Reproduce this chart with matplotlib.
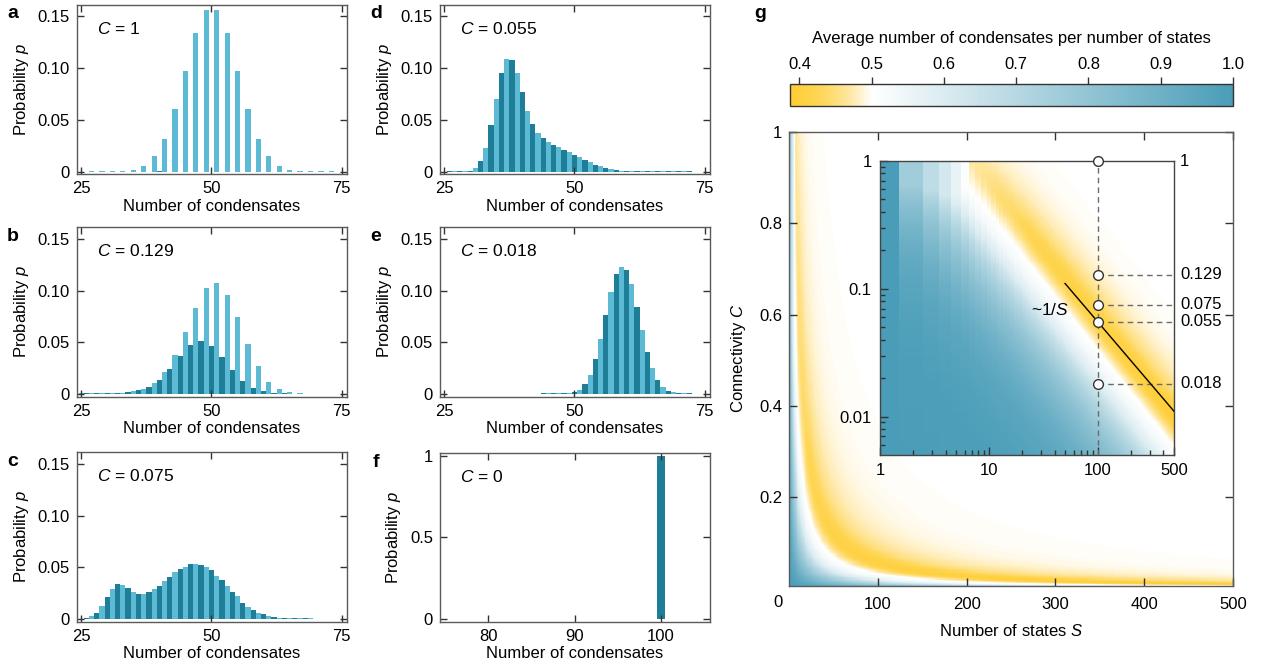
import numpy as np
import matplotlib
matplotlib.use("Agg")
import matplotlib.pyplot as plt
from matplotlib.colors import LinearSegmentedColormap, Normalize
from matplotlib.cm import ScalarMappable
from matplotlib.ticker import FixedLocator, NullFormatter

plt.rcParams["font.family"] = ["Liberation Sans", "DejaVu Sans"]
plt.rcParams["mathtext.fontset"] = "custom"
plt.rcParams["mathtext.rm"] = "Liberation Sans"
plt.rcParams["mathtext.it"] = "Liberation Sans:italic"
plt.rcParams["font.size"] = 12

# ---------------- histogram data (number of condensates, probability) ----------------
n_a_start = 27
p_a = [0.0003, 0, 0.0003, 0, 0.0003, 0, 0.0006, 0, 0.0019, 0, 0.0058, 0, 0.0148, 0.0004,
       0.032, 0, 0.0605, 0, 0.0975, 0, 0.1336, 0, 0.156, 0, 0.156, 0, 0.1336, 0, 0.0975, 0,
       0.0605, 0, 0.032, 0, 0.0148, 0, 0.0058, 0, 0.0019, 0, 0.0006, 0, 0.0003, 0, 0.0003,
       0, 0.0003]

n_b_start = 25
p_b = [0.0008, 0.0008, 0.0008, 0.0008, 0.0009, 0.0009, 0.001, 0.001, 0.0012, 0.002,
       0.003, 0.004, 0.005, 0.007, 0.011, 0.014, 0.021, 0.024, 0.038, 0.037,
       0.060, 0.047, 0.083, 0.051, 0.102, 0.046, 0.107, 0.036, 0.096, 0.023,
       0.074, 0.013, 0.048, 0.006, 0.027, 0.003, 0.012, 0.001, 0.005, 0.0006,
       0.002, 0.0004, 0.0008, 0.0003, 0.0005, 0.0003, 0.0004, 0.0003]

n_c_start = 25
p_c = [0.0005, 0.001, 0.003, 0.006, 0.013, 0.021, 0.029, 0.034, 0.033, 0.030,
       0.026, 0.024, 0.024, 0.026, 0.029, 0.032, 0.037, 0.041, 0.045, 0.048,
       0.050, 0.053, 0.053, 0.052, 0.050, 0.047, 0.042, 0.038, 0.032, 0.026,
       0.022, 0.016, 0.012, 0.009, 0.006, 0.005, 0.003, 0.002, 0.0015, 0.001,
       0.0009, 0.0008, 0.0007, 0.0006, 0.0006, 0.0005, 0.0005, 0.0004, 0.0004, 0.0004]

n_d_start = 26
p_d = [0.0003, 0.0003, 0.0004, 0.0006, 0.001, 0.0036, 0.010, 0.023, 0.045, 0.070,
       0.095, 0.109, 0.108, 0.095, 0.0765, 0.059, 0.046, 0.0375, 0.033, 0.029,
       0.026, 0.0235, 0.021, 0.0187, 0.0165, 0.0139, 0.0113, 0.009, 0.0068, 0.0052,
       0.0036, 0.0026, 0.0016, 0.001, 0.0008, 0.0006, 0.0005, 0.0004, 0.0003, 0.0003,
       0.0003, 0.0003, 0.0003, 0.0003, 0.0003, 0.0003, 0.0003]

n_e_start = 44
p_e = [0.0008, 0.0008, 0.0008, 0.001, 0.001, 0.0015, 0.002, 0.004, 0.0097, 0.0187,
       0.034, 0.053, 0.076, 0.099, 0.116, 0.123, 0.1195, 0.106, 0.084, 0.0615,
       0.0406, 0.0248, 0.0138, 0.007, 0.003, 0.0018, 0.001, 0.0008, 0.0006, 0.0005,
       0.0004, 0.0004]

n_f = [100]
p_f = [1.0]

panel_C_text = ["1", "0.129", "0.075", "0.055", "0.018", "0"]

# ---------------- phase diagram data ----------------
# mean condensate fraction as a function of C*S
profile_cs = [0.0, 0.25, 0.5, 1.0, 1.8, 2.5, 3.3, 4.0, 4.7, 5.5, 6.5, 7.5, 9.0, 11.0, 14.0,
              18.0, 25.0, 40.0, 1000.0]
profile_ratio = [1.0, 0.93, 0.86, 0.75, 0.595, 0.53, 0.50, 0.46, 0.42, 0.40, 0.41, 0.43,
                 0.455, 0.472, 0.485, 0.493, 0.498, 0.5, 0.5]
# finite-size depth of the minimum, versus S
depth_states = [1, 4, 7, 12, 25, 50, 100, 500]
depth_scale = [0.0, 0.12, 0.3, 0.55, 0.8, 0.92, 1.0, 1.1]
# ratio floor for the smallest systems
floor_states = [1, 2, 3, 4, 5, 6]
floor_ratio = [1.0, 0.76, 0.68, 0.62, 0.56, 0.51]

marker_S = 100
marker_C = [1.0, 0.129, 0.075, 0.055, 0.018]
marker_labels = ["1", "0.129", "0.075", "0.055", "0.018"]
inv_coeff = 5.5
inv_S_range = [50, 500]

cmap_values = [0.387, 0.43, 0.465, 0.485, 0.497, 0.5, 1.0]
cmap_colors = ["#ffcd32", "#fed75a", "#fee59a", "#fff2d0", "#fffdf6", "#ffffff", "#4a9db8"]
cbar_ticks = [0.4, 0.5, 0.6, 0.7, 0.8, 0.9, 1.0]

LIGHT = "#5cbad4"
DARK = "#1f7e97"
FRAME = "#5a5a5a"

W, H = 1276, 670
fig = plt.figure(figsize=(W / 100, H / 100), dpi=100)


def box(l, t, r, b):
    return [l / W, 1 - b / H, (r - l) / W, (b - t) / H]


def style(ax, length=5):
    for sp in ax.spines.values():
        sp.set_color(FRAME)
        sp.set_linewidth(1.0)
    ax.tick_params(direction="in", length=length, width=1, color="#333333",
                   top=True, right=True, labelsize=12, pad=5)


hist_specs = [
    ("a", (77, 5, 347, 174.3), n_a_start, p_a, 0),
    ("b", (77, 227.3, 347, 396.7), n_b_start, p_b, 1),
    ("c", (77, 452.3, 347, 621.7), n_c_start, p_c, 2),
    ("d", (440, 5, 710, 174.3), n_d_start, p_d, 3),
    ("e", (440, 227.3, 710, 396.7), n_e_start, p_e, 4),
]

for letter, rect, n0, probs, k in hist_specs:
    ax = fig.add_axes(box(*rect))
    n = np.arange(n0, n0 + len(probs))
    colors = [LIGHT if v % 2 else DARK for v in n]
    ax.bar(n, probs, width=1.0, color=colors, linewidth=0)
    ax.set_xlim(24.2, 76)
    ax.set_ylim(-0.0025, 0.161)
    ax.set_xticks([25, 50, 75])
    ax.set_yticks([0, 0.05, 0.10, 0.15])
    ax.set_yticklabels(["0", "0.05", "0.10", "0.15"])
    style(ax)
    ax.set_xlabel("Number of condensates", labelpad=2)
    ax.set_ylabel("Probability $p$", labelpad=5)
    ax.text(0.073, 0.86, "$C$ = " + panel_C_text[k], transform=ax.transAxes,
            ha="left", va="center", fontsize=12.5)
    fig.text((rect[0] - 64) / W, 1 - (rect[1] + 9) / H, letter, fontweight="bold",
             fontsize=14, ha="center", va="center")

# panel f
rect_f = (440, 453.3, 710, 621.7)
ax = fig.add_axes(box(*rect_f))
ax.bar(n_f, p_f, width=1.0, color=DARK, linewidth=0)
ax.set_xlim(74.4, 105.7)
ax.set_ylim(-0.016, 1.015)
ax.set_xticks([80, 90, 100])
ax.set_yticks([0, 0.5, 1])
ax.set_yticklabels(["0", "0.5", "1"])
style(ax)
ax.set_xlabel("Number of condensates", labelpad=2)
ax.set_ylabel("Probability $p$", labelpad=5)
ax.text(0.073, 0.86, "$C$ = " + panel_C_text[5], transform=ax.transAxes,
        ha="left", va="center", fontsize=12.5)
fig.text((440 - 64) / W, 1 - (453.3 + 9) / H, "f", fontweight="bold", fontsize=14,
         ha="center", va="center")

# ---------------- panel g ----------------
cmap_nodes = [(v - cmap_values[0]) / (cmap_values[-1] - cmap_values[0]) for v in cmap_values]
cmap = LinearSegmentedColormap.from_list("condensate", list(zip(cmap_nodes, cmap_colors)))
norm = Normalize(vmin=cmap_values[0], vmax=cmap_values[-1])


def mean_fraction(S, C):
    x = C * S * (S / 100.0) ** 0.08
    base = np.interp(x, profile_cs, profile_ratio)
    depth = np.interp(S, depth_states, depth_scale)
    val = np.where(base < 0.5, 0.5 - (0.5 - base) * depth, base)
    floor = np.interp(S, floor_states, floor_ratio, right=0.0)
    return np.maximum(val, floor)


S_vals = np.arange(1, 501)
S_edges = np.arange(0.5, 501.0, 1.0)

C_edges_lin = np.linspace(0.0, 1.0, 401)
C_mid_lin = 0.5 * (C_edges_lin[1:] + C_edges_lin[:-1])
SS, CC = np.meshgrid(S_vals, C_mid_lin)
Z_lin = mean_fraction(SS, CC)

C_edges_log = np.logspace(np.log10(0.004), 0.0, 321)
C_mid_log = np.sqrt(C_edges_log[1:] * C_edges_log[:-1])
SS2, CC2 = np.meshgrid(S_vals, C_mid_log)
Z_log = mean_fraction(SS2, CC2)

axg = fig.add_axes(box(789, 131.7, 1233, 586))
axg.pcolormesh(S_edges, C_edges_lin, Z_lin, cmap=cmap, norm=norm, shading="flat",
               antialiased=False, rasterized=True)
axg.set_xlim(0, 500)
axg.set_ylim(0.006, 1.0)
axg.set_xticks([100, 200, 300, 400, 500])
axg.set_yticks([0.2, 0.4, 0.6, 0.8, 1.0])
axg.set_yticklabels(["0.2", "0.4", "0.6", "0.8", "1"])
style(axg, length=6)
axg.tick_params(axis="x", pad=8)
axg.tick_params(axis="y", pad=5)
axg.set_xlabel("Number of states $S$", labelpad=8)
axg.set_ylabel("Connectivity $C$", labelpad=8)
axg.text(-0.025, -0.037, "0", transform=axg.transAxes, ha="center", va="center", fontsize=12)
fig.text(760 / W, 1 - 14 / H, "g", fontweight="bold", fontsize=14, ha="center", va="center")

# colour bar
cax = fig.add_axes(box(790, 84.3, 1233, 105.7))
cb = fig.colorbar(ScalarMappable(norm=norm, cmap=cmap), cax=cax, orientation="horizontal")
cax.xaxis.set_ticks_position("top")
cax.xaxis.set_label_position("top")
cb.set_ticks(cbar_ticks)
cb.set_ticklabels([f"{t:.1f}" for t in cbar_ticks])
cb.outline.set_linewidth(1.0)
cb.outline.set_edgecolor("#333333")
cax.tick_params(direction="out", length=5, width=1, color="#333333", pad=4, labelsize=12)
cb.set_label("Average number of condensates per number of states", labelpad=10, fontsize=12)

# inset (log-log)
axi = fig.add_axes(box(880, 161, 1174, 455))
axi.pcolormesh(S_edges, C_edges_log, Z_log, cmap=cmap, norm=norm, shading="flat",
               antialiased=False, rasterized=True)
axi.set_xscale("log")
axi.set_yscale("log")
axi.set_xlim(1, 500)
axi.set_ylim(0.005, 1)
axi.xaxis.set_major_locator(FixedLocator([1, 10, 100, 500]))
axi.set_xticklabels(["1", "10", "100", "500"])
axi.xaxis.set_minor_locator(FixedLocator([2, 3, 4, 5, 6, 7, 8, 9, 20, 30, 40, 50, 60, 70,
                                          80, 90, 200, 300, 400]))
axi.xaxis.set_minor_formatter(NullFormatter())
axi.yaxis.set_major_locator(FixedLocator([0.01, 0.1, 1]))
axi.set_yticklabels(["0.01", "0.1", "1"])
axi.yaxis.set_minor_locator(FixedLocator([0.006, 0.007, 0.008, 0.009,
                                          0.02, 0.03, 0.04, 0.05, 0.06, 0.07, 0.08, 0.09,
                                          0.2, 0.3, 0.4, 0.5, 0.6, 0.7, 0.8, 0.9]))
axi.yaxis.set_minor_formatter(NullFormatter())
for sp in axi.spines.values():
    sp.set_color("#444444")
    sp.set_linewidth(1.0)
axi.tick_params(which="both", direction="in", color="#333333", width=1, labelsize=12,
                top=False, right=False)
axi.tick_params(which="major", length=6, pad=6)
axi.tick_params(which="minor", length=3.5)

dash = dict(color="#6b6b6b", lw=1.0, ls=(0, (4, 3)), zorder=3)
axi.plot([marker_S, marker_S], [0.005, 1.0], **dash)
for c in marker_C[1:]:
    axi.plot([marker_S, 500], [c, c], **dash)
s_line = np.array(inv_S_range, dtype=float)
axi.plot(s_line, inv_coeff / s_line, color="black", lw=1.0, zorder=4)
axi.plot([marker_S] * len(marker_C), marker_C, "o", mfc="white", mec="#333333", mew=1.0,
         ms=7, zorder=6, clip_on=False)
ytrans = axi.get_yaxis_transform()
for c, lab in zip(marker_C, marker_labels):
    axi.text(1.02, c, lab, transform=ytrans, ha="left", va="center", fontsize=12)
axi.text(54, 0.068, "~1/$S$", ha="right", va="center", fontsize=12.5, zorder=5)

fig.savefig("out.png", dpi=100)
